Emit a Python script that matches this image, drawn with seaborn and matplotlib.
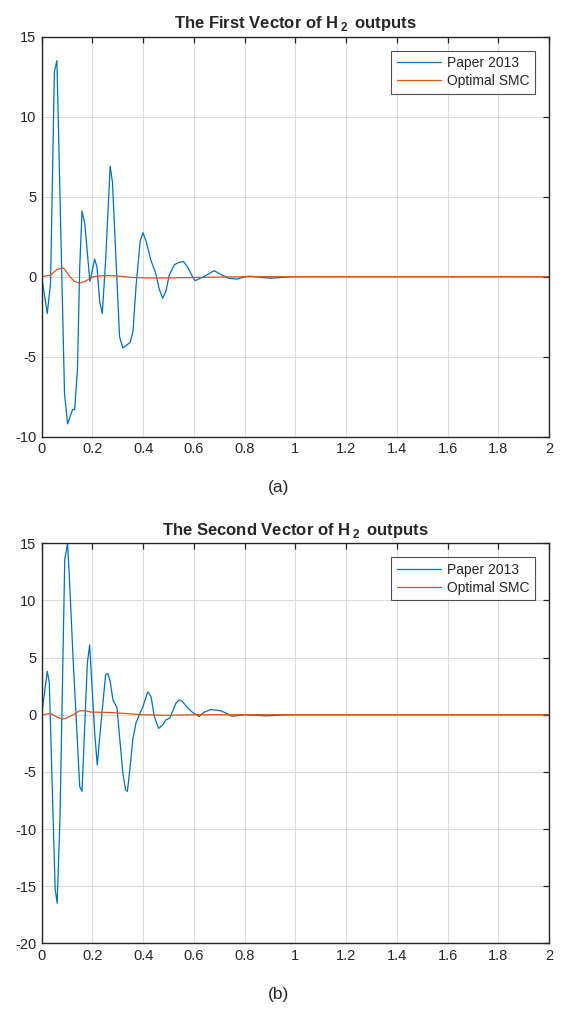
import numpy as np
import pandas as pd
import seaborn as sns
import matplotlib.pyplot as plt

# Data
# (a) first vector
t_a_paper = [0, 0.022, 0.035, 0.05, 0.06, 0.09, 0.102, 0.122, 0.13, 0.141, 0.15, 0.159,
             0.17, 0.19, 0.209, 0.218, 0.229, 0.239, 0.252, 0.27, 0.279, 0.307, 0.32,
             0.333, 0.349, 0.36, 0.372, 0.388, 0.399, 0.412, 0.431, 0.448, 0.464, 0.477,
             0.49, 0.503, 0.523, 0.542, 0.559, 0.575, 0.595, 0.605, 0.639, 0.68, 0.699,
             0.738, 0.771, 0.803, 0.822, 0.901, 0.986, 2.0]
y_a_paper = [0, -2.3, -0.4, 12.8, 13.5, -7.3, -9.2, -8.3, -8.3, -5.8, 0.6, 4.1,
             3.3, -0.3, 1.1, 0.6, -1.6, -2.3, 1.0, 6.9, 5.9, -3.75, -4.45,
             -4.3, -4.1, -3.4, -0.6, 2.2, 2.75, 2.2, 1.0, 0.3, -0.8, -1.35,
             -0.9, 0.1, 0.75, 0.9, 0.95, 0.6, 0.0, -0.25, 0.0, 0.38, 0.2,
             -0.1, -0.15, 0.0, 0.03, -0.1, 0.0, 0.0]
t_a_smc = [0, 0.035, 0.06, 0.082, 0.09, 0.111, 0.13, 0.15, 0.17, 0.203, 0.229, 0.255,
           0.294, 0.36, 0.425, 0.49, 0.594, 0.8, 2.0]
y_a_smc = [0, 0.1, 0.45, 0.55, 0.48, 0.0, -0.3, -0.4, -0.3, 0.0, 0.05, 0.07,
           0.05, -0.05, -0.08, -0.08, -0.05, 0.0, 0.0]

# (b) second vector
t_b_paper = [0, 0.022, 0.030, 0.053, 0.061, 0.072, 0.091, 0.102, 0.111, 0.124, 0.150,
             0.159, 0.180, 0.189, 0.209, 0.219, 0.229, 0.252, 0.261, 0.270, 0.281,
             0.297, 0.307, 0.320, 0.331, 0.338, 0.349, 0.359, 0.372, 0.385, 0.399,
             0.418, 0.431, 0.444, 0.461, 0.477, 0.490, 0.505, 0.516, 0.529, 0.542,
             0.555, 0.575, 0.595, 0.621, 0.639, 0.666, 0.705, 0.731, 0.751, 0.797,
             0.882, 0.934, 0.986, 2.0]
y_b_paper = [0, 3.8, 2.8, -15.2, -16.5, -9.2, 13.6, 15.0, 11.2, 4.8, -6.3,
             -6.7, 4.5, 6.1, -1.6, -4.4, -1.9, 3.5, 3.6, 2.9, 1.3,
             0.6, -1.9, -5.1, -6.6, -6.7, -4.5, -2.2, -0.7, 0.0, 0.7,
             2.0, 1.6, -0.15, -1.2, -0.9, -0.45, -0.3, 0.3, 1.0, 1.3,
             1.15, 0.6, 0.2, -0.15, 0.2, 0.45, 0.35, 0.1, -0.15, 0.0,
             -0.1, -0.05, 0.0, 0.0]
t_b_smc = [0, 0.035, 0.060, 0.082, 0.098, 0.124, 0.150, 0.170, 0.196, 0.268, 0.333,
           0.399, 0.49, 0.6, 2.0]
y_b_smc = [0, 0.1, -0.2, -0.38, -0.3, 0.0, 0.35, 0.35, 0.23, 0.2, 0.1,
           0.0, -0.05, 0.0, 0.0]

series_names = ['Paper 2013', 'Optimal SMC']
colors = ['#0072BD', '#D95319']
x_ticks = [0, 0.2, 0.4, 0.6, 0.8, 1.0, 1.2, 1.4, 1.6, 1.8, 2.0]
x_tick_labels = ['0', '0.2', '0.4', '0.6', '0.8', '1', '1.2', '1.4', '1.6', '1.8', '2']
y_ticks_a = [-10, -5, 0, 5, 10, 15]
y_ticks_b = [-20, -15, -10, -5, 0, 5, 10, 15]
titles = [r'The First Vector of H$\,_{\mathbf{2}}\,$ outputs',
          r'The Second Vector of H$\,_{\mathbf{2}}\,$ outputs']
captions = ['(a)', '(b)']


def make_frame(t1, y1, t2, y2):
    d1 = pd.DataFrame({'t': t1, 'v': y1, 'series': series_names[0]})
    d2 = pd.DataFrame({'t': t2, 'v': y2, 'series': series_names[1]})
    return pd.concat([d1, d2], ignore_index=True)


sns.set_style('white')
plt.rcParams['font.family'] = ['Liberation Sans', 'DejaVu Sans']
plt.rcParams['mathtext.fontset'] = 'custom'
plt.rcParams['mathtext.rm'] = 'Liberation Sans'
plt.rcParams['mathtext.bf'] = 'Liberation Sans:bold'
plt.rcParams['axes.unicode_minus'] = False

fig = plt.figure(figsize=(5.61, 10.13), dpi=100)
ax_a = fig.add_axes([0.0743, 0.5689, 0.9043, 0.3949])
ax_b = fig.add_axes([0.0743, 0.0688, 0.9043, 0.3949])

frames = [make_frame(t_a_paper, y_a_paper, t_a_smc, y_a_smc),
          make_frame(t_b_paper, y_b_paper, t_b_smc, y_b_smc)]
ylims = [(-10, 15), (-20, 15)]
yticks = [y_ticks_a, y_ticks_b]
cap_y = [0.519, 0.018]

for ax, df, yl, yt, title, cap, cy in zip([ax_a, ax_b], frames, ylims, yticks,
                                          titles, captions, cap_y):
    sns.lineplot(data=df, x='t', y='v', hue='series', palette=colors,
                 estimator=None, sort=False, linewidth=0.9, ax=ax)
    ax.set_xlim(0, 2)
    ax.set_ylim(*yl)
    ax.set_xticks(x_ticks)
    ax.set_xticklabels(x_tick_labels)
    ax.set_yticks(yt)
    ax.set_xlabel('')
    ax.set_ylabel('')
    ax.grid(True, color='#dcdcdc', linewidth=0.8)
    ax.set_axisbelow(True)
    ax.tick_params(direction='in', top=True, right=True, length=4, width=0.9,
                   labelsize=10.5, colors='#262626', pad=4)
    for sp in ax.spines.values():
        sp.set_color('#262626')
        sp.set_linewidth(1.0)
    ax.set_title(title, fontsize=12, fontweight='bold', pad=6)
    leg = ax.legend(loc='upper right', fontsize=10, frameon=True, fancybox=False,
                    handlelength=3.2, borderaxespad=1.0, borderpad=0.4,
                    labelspacing=0.3, handletextpad=0.4)
    leg.get_frame().set_edgecolor('#262626')
    leg.get_frame().set_linewidth(0.8)
    fig.text(0.497, cy, cap, ha='center', va='center', fontsize=12.5, color='#262626')

fig.savefig('out.png', dpi=100)
